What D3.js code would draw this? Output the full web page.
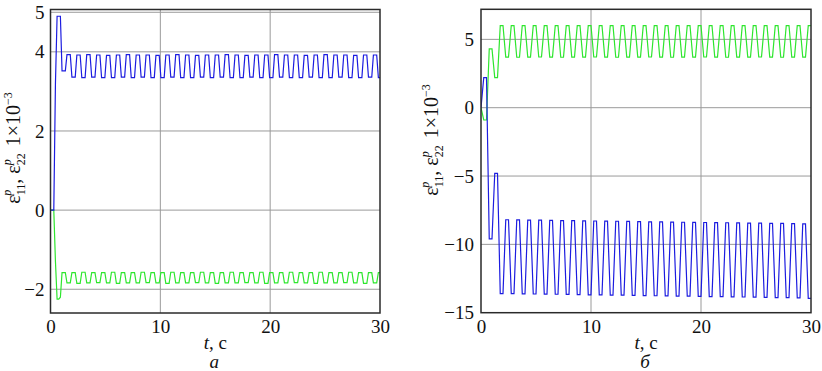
<!DOCTYPE html>
<html><head><meta charset="utf-8">
<script src="https://cdn.jsdelivr.net/npm/d3@7"></script>
</head>
<body style="margin:0">
<script>
// ---------- DATA ----------
const xTicks = [0, 10, 20, 30];
const yTicksA = [-2, 0, 2, 4, 5];
const yTicksB = [-15, -10, -5, 0, 5];
const dtA = 0.15;   // sample step of panel a (s)
const dtB = 0.25;   // sample step of panel б (s)

// panel a: ε11 (blue), ε22 (green), 1e-3
const blueA = [0,0,0,3.2,4.9,4.9,4.9,3.52,3.52,3.52,
3.93,3.93,3.93,3.36,3.36,3.36, 3.92,3.92,3.92,3.35,3.35,3.35, 3.93,3.93,3.93,3.36,3.36,3.36, 3.92,3.92,3.92,3.35,3.35,3.35,
3.91,3.91,3.91,3.35,3.35,3.35, 3.92,3.92,3.92,3.36,3.36,3.36, 3.93,3.93,3.93,3.35,3.35,3.35, 3.92,3.92,3.92,3.36,3.36,3.36,
3.92,3.92,3.92,3.35,3.35,3.35, 3.91,3.91,3.91,3.35,3.35,3.35, 3.92,3.92,3.92,3.36,3.36,3.36, 3.93,3.93,3.93,3.35,3.35,3.35,
3.92,3.92,3.92,3.35,3.35,3.35, 3.91,3.91,3.91,3.36,3.36,3.36, 3.92,3.92,3.92,3.35,3.35,3.35, 3.92,3.92,3.92,3.36,3.36,3.36,
3.93,3.93,3.93,3.35,3.35,3.35, 3.92,3.92,3.92,3.35,3.35,3.35, 3.91,3.91,3.91,3.36,3.36,3.36, 3.92,3.92,3.92,3.35,3.35,3.35,
3.92,3.92,3.92,3.35,3.35,3.35, 3.93,3.93,3.93,3.36,3.36,3.36, 3.92,3.92,3.92,3.35,3.35,3.35, 3.92,3.92,3.92,3.35,3.35,3.35,
3.91,3.91,3.91,3.36,3.36,3.36, 3.92,3.92,3.92,3.35,3.35,3.35, 3.93,3.93,3.93,3.35,3.35,3.35, 3.92,3.92,3.92,3.36,3.36,3.36,
3.92,3.92,3.92,3.35,3.35,3.35, 3.91,3.91,3.91,3.35,3.35,3.35, 3.92,3.92,3.92,3.36,3.36,3.36,
3.92,3.92,3.92,3.35,3.35];

const greenA = [0,0,0,-1.3,-2.25,-2.25,-2.2,-1.58,-1.58,-1.58,
-1.84,-1.84,-1.84,-1.58,-1.58,-1.58, -1.85,-1.85,-1.85,-1.57,-1.57,-1.57, -1.84,-1.84,-1.84,-1.58,-1.58,-1.58, -1.83,-1.83,-1.83,-1.58,-1.58,-1.58,
-1.84,-1.84,-1.84,-1.57,-1.57,-1.57, -1.85,-1.85,-1.85,-1.58,-1.58,-1.58, -1.84,-1.84,-1.84,-1.58,-1.58,-1.58, -1.84,-1.84,-1.84,-1.57,-1.57,-1.57,
-1.83,-1.83,-1.83,-1.58,-1.58,-1.58, -1.84,-1.84,-1.84,-1.58,-1.58,-1.58, -1.85,-1.85,-1.85,-1.57,-1.57,-1.57, -1.84,-1.84,-1.84,-1.58,-1.58,-1.58,
-1.84,-1.84,-1.84,-1.58,-1.58,-1.58, -1.83,-1.83,-1.83,-1.57,-1.57,-1.57, -1.84,-1.84,-1.84,-1.58,-1.58,-1.58, -1.85,-1.85,-1.85,-1.58,-1.58,-1.58,
-1.84,-1.84,-1.84,-1.57,-1.57,-1.57, -1.84,-1.84,-1.84,-1.58,-1.58,-1.58, -1.83,-1.83,-1.83,-1.58,-1.58,-1.58, -1.84,-1.84,-1.84,-1.57,-1.57,-1.57,
-1.85,-1.85,-1.85,-1.58,-1.58,-1.58, -1.84,-1.84,-1.84,-1.58,-1.58,-1.58, -1.84,-1.84,-1.84,-1.57,-1.57,-1.57, -1.83,-1.83,-1.83,-1.58,-1.58,-1.58,
-1.84,-1.84,-1.84,-1.58,-1.58,-1.58, -1.85,-1.85,-1.85,-1.57,-1.57,-1.57, -1.84,-1.84,-1.84,-1.58,-1.58,-1.58, -1.84,-1.84,-1.84,-1.58,-1.58,-1.58,
-1.83,-1.83,-1.83,-1.57,-1.57,-1.57, -1.84,-1.84,-1.84,-1.58,-1.58,-1.58, -1.85,-1.85,-1.85,-1.58,-1.58,-1.58,
-1.84,-1.84,-1.84,-1.58,-1.58];

// panel б: ε11 (blue), ε22 (green), 1e-3
const blueB = [0,2.2,2.2,-9.6,-9.6,-4.8,-4.8,-13.6,-13.6,
-8.20,-8.20,-13.60,-13.60, -8.21,-8.21,-13.62,-13.62, -8.22,-8.22,-13.63,-13.63, -8.23,-8.23,-13.64,-13.64,
-8.24,-8.24,-13.65,-13.65, -8.26,-8.26,-13.66,-13.66, -8.27,-8.27,-13.68,-13.68, -8.28,-8.28,-13.69,-13.69,
-8.29,-8.29,-13.70,-13.70, -8.30,-8.30,-13.71,-13.71, -8.31,-8.31,-13.72,-13.72, -8.32,-8.32,-13.73,-13.73,
-8.34,-8.34,-13.75,-13.75, -8.35,-8.35,-13.76,-13.76, -8.36,-8.36,-13.77,-13.77, -8.37,-8.37,-13.78,-13.78,
-8.38,-8.38,-13.79,-13.79, -8.39,-8.39,-13.80,-13.80, -8.40,-8.40,-13.82,-13.82, -8.41,-8.41,-13.83,-13.83,
-8.42,-8.42,-13.84,-13.84, -8.43,-8.43,-13.85,-13.85, -8.44,-8.44,-13.86,-13.86, -8.45,-8.45,-13.88,-13.88,
-8.46,-8.46,-13.89,-13.89, -8.47,-8.47,-13.90,-13.90, -8.48,-8.48,-13.92,-13.92, -8.50,-8.50,-13.95,-13.95];

const greenB = [0,-0.9,-0.9,4.3,4.3,2.2,2.2,6.0,6.0,
3.70,3.70,6.00,6.00, 3.69,3.69,6.01,6.01, 3.70,3.70,6.00,6.00, 3.71,3.71,6.00,6.00,
3.70,3.70,6.01,6.01, 3.69,3.69,6.00,6.00, 3.70,3.70,6.00,6.00, 3.70,3.70,6.01,6.01,
3.71,3.71,6.00,6.00, 3.70,3.70,6.00,6.00, 3.69,3.69,6.01,6.01, 3.70,3.70,6.00,6.00,
3.70,3.70,6.00,6.00, 3.71,3.71,6.01,6.01, 3.70,3.70,6.00,6.00, 3.69,3.69,6.00,6.00,
3.70,3.70,6.01,6.01, 3.70,3.70,6.00,6.00, 3.71,3.71,6.00,6.00, 3.70,3.70,6.01,6.01,
3.69,3.69,6.00,6.00, 3.70,3.70,6.00,6.00, 3.70,3.70,6.01,6.01, 3.71,3.71,6.00,6.00,
3.70,3.70,6.00,6.00, 3.69,3.69,6.01,6.01, 3.70,3.70,6.00,6.00, 3.70,3.70,6.00,6.00];

const xTitle = ["t", ", с"];
const panelLetters = ["а", "б"];
const BLUE = "#1c1ce0", GREEN = "#2ee62e";
const FONT = '"Liberation Serif"';

// ---------- DRAW ----------
const svg = d3.select("body").append("svg").attr("width", 822).attr("height", 371)
  .style("display", "block");

function txt(sel, size) {
  return sel.style("font-family", FONT).style("font-size", size + "px").attr("fill", "#111");
}

function yLabel(g, x, y) {
  const t = txt(g.append("text").attr("transform", `translate(${x},${y}) rotate(-90)`)
    .attr("text-anchor", "middle"), 20);
  const part = (s, o) => { const ts = t.append("tspan").text(s); if (o) for (const k in o) ts.attr(k, o[k]); return ts; };
  part("ε");
  part("11", {dy: 5, "font-size": 12});
  part("p", {dx: -12, dy: -14, "font-size": 12, "font-style": "italic"});
  part(",", {dx: 6, dy: 9});
  part(" ε");
  part("22", {dy: 5, "font-size": 12});
  part("p", {dx: -12, dy: -14, "font-size": 12, "font-style": "italic"});
  part("  1×10", {dx: 8, dy: 9});
  part("−3", {dy: -8, "font-size": 12});
  t.selectAll("tspan").each(function () {
    const fs = this.getAttribute("font-size");
    if (fs) { d3.select(this).style("font-size", fs + "px"); }
  });
}

function panel(cfg) {
  const x = d3.scaleLinear().domain([0, 30]).range(cfg.xr);
  const y = d3.scaleLinear().domain(cfg.yd).range(cfg.yr);
  const g = svg.append("g");
  const [x0, x1] = cfg.xr, [yb, yt] = cfg.yr;
  // grid
  g.append("g").selectAll("line").data(xTicks.filter(v => v > 0 && v < 30)).join("line")
    .attr("x1", d => x(d)).attr("x2", d => x(d)).attr("y1", yt).attr("y2", yb)
    .attr("stroke", "#9a9a9a").attr("stroke-width", 1);
  g.append("g").selectAll("line").data(cfg.yt.filter(v => y(v) > yt + 2 && y(v) < yb - 2)).join("line")
    .attr("x1", x0).attr("x2", x1).attr("y1", d => y(d)).attr("y2", d => y(d))
    .attr("stroke", "#9a9a9a").attr("stroke-width", 1);
  // lines
  const clipId = "clip" + cfg.id;
  g.append("clipPath").attr("id", clipId).append("rect")
    .attr("x", x0).attr("y", yt).attr("width", x1 - x0).attr("height", yb - yt);
  const line = dt => d3.line().x((d, i) => x(i * dt)).y(d => y(d));
  cfg.series.forEach(s => {
    g.append("path").datum(s.v).attr("clip-path", `url(#${clipId})`)
      .attr("d", line(cfg.dt)).attr("fill", "none").attr("stroke", s.c)
      .attr("stroke-width", 1.2).attr("stroke-linejoin", "miter");
  });
  // frame
  g.append("rect").attr("x", x0).attr("y", yt).attr("width", x1 - x0).attr("height", yb - yt)
    .attr("fill", "none").attr("stroke", "#2a2a2a").attr("stroke-width", 1.5);
  // axes
  const ax = g.append("g").attr("transform", `translate(0,${yb})`)
    .call(d3.axisBottom(x).tickValues(xTicks).tickSize(0).tickPadding(7));
  const ay = g.append("g").attr("transform", `translate(${x0},0)`)
    .call(d3.axisLeft(y).tickValues(cfg.yt).tickSize(0).tickPadding(cfg.pad));
  [ax, ay].forEach(a => {
    a.attr("font-family", null).attr("font-size", null);
    a.select(".domain").remove();
    txt(a.selectAll("text"), 19);
  });
  // titles
  const cx = (x0 + x1) / 2;
  const tt = txt(g.append("text").attr("x", cx).attr("y", 349).attr("text-anchor", "middle"), 19);
  tt.append("tspan").text(xTitle[0]).style("font-style", "italic");
  tt.append("tspan").text(xTitle[1]);
  txt(g.append("text").attr("x", cx - 1).attr("y", 368).attr("text-anchor", "middle"), 19)
    .style("font-style", "italic").text(cfg.letter);
  yLabel(g, cfg.ylx, cfg.yly);
}

panel({id: "a", xr: [50.5, 380], yd: [-2.6, 5.07], yr: [313, 9.5], yt: yTicksA, pad: 6, dt: dtA,
  series: [{v: greenA, c: GREEN}, {v: blueA, c: BLUE}], letter: panelLetters[0], ylx: 20, yly: 148});
panel({id: "b", xr: [481, 811], yd: [-15, 7.2], yr: [312.7, 9.3], yt: yTicksB, pad: 7, dt: dtB,
  series: [{v: greenB, c: GREEN}, {v: blueB, c: BLUE}], letter: panelLetters[1], ylx: 438, yly: 140});
</script>
</body></html>
